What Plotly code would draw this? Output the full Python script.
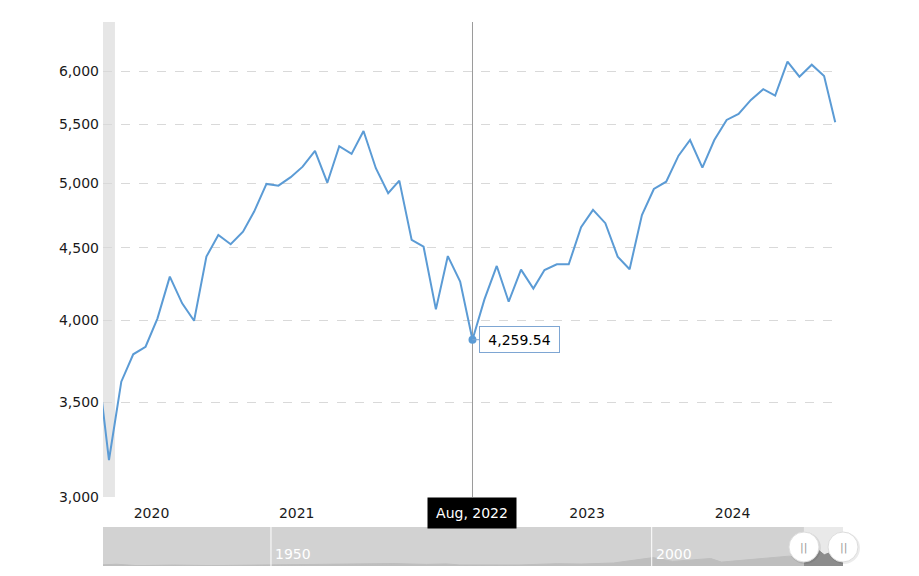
import plotly.graph_objects as go
import numpy as np
from datetime import date

# ---- main series (monthly, Feb 2020 - Mar 2025) ----
dates = [
    "2020-02-01", "2020-03-01", "2020-04-01", "2020-05-01", "2020-06-01", "2020-07-01",
    "2020-08-01", "2020-09-01", "2020-10-01", "2020-11-01", "2020-12-01", "2021-01-01",
    "2021-02-01", "2021-03-01", "2021-04-01", "2021-05-01", "2021-06-01", "2021-07-01",
    "2021-08-01", "2021-09-01", "2021-10-01", "2021-11-01", "2021-12-01", "2022-01-01",
    "2022-02-01", "2022-03-01", "2022-04-01", "2022-05-01", "2022-06-01", "2022-07-01",
    "2022-08-01", "2022-09-01", "2022-10-01", "2022-11-01", "2022-12-01", "2023-01-01",
    "2023-02-01", "2023-03-01", "2023-04-01", "2023-05-01", "2023-06-01", "2023-07-01",
    "2023-08-01", "2023-09-01", "2023-10-01", "2023-11-01", "2023-12-01", "2024-01-01",
    "2024-02-01", "2024-03-01", "2024-04-01", "2024-05-01", "2024-06-01", "2024-07-01",
    "2024-08-01", "2024-09-01", "2024-10-01", "2024-11-01", "2024-12-01", "2025-01-01",
    "2025-02-01", "2025-03-01",
]
values = [
    3733, 3186, 3619, 3784, 3831, 4012, 4294, 4111, 3996, 4436, 4595, 4526,
    4620, 4773, 4993, 4979, 5048, 5135, 5268, 5003, 5309, 5243, 5442, 5122,
    4918, 5020, 4558, 4508, 4071, 4440, 4259, 3875, 4138, 4369, 4122, 4343,
    4211, 4340, 4381, 4381, 4653, 4786, 4684, 4436, 4346, 4747, 4952, 5011,
    5228, 5363, 5127, 5363, 5541, 5595, 5724, 5825, 5764, 6092, 5945, 6062,
    5951, 5520,
]

y_ticks = [3000, 3500, 4000, 4500, 5000, 5500, 6000]
# the 2022 year label sits under the hover date box in the reference, so it is not shown
x_tick_dates = ["2020-06-16", "2021-06-16", "2023-06-16", "2024-06-16"]
x_tick_text = ["2020", "2021", "2023", "2024"]
x_range = ["2020-02-15", "2025-03-13"]

recession_band = ["2020-02-15", "2020-03-16"]

hover_date = "2022-09-01"
hover_label = "Aug, 2022"
hover_value_text = "4,259.54"

# ---- navigator (long-term history) ----
nav_dates = [
    "1927-12-10", "1929-09-01", "1932-06-01", "1937-03-01", "1942-04-01", "1946-05-01",
    "1949-06-01", "1956-07-01", "1962-06-01", "1966-01-01", "1970-06-01", "1973-01-01",
    "1974-10-01", "1982-08-01", "1987-08-01", "1990-10-01", "1995-01-01", "2000-03-01",
    "2002-10-01", "2007-10-01", "2009-03-01", "2013-01-01", "2018-01-01", "2020-03-01",
    "2021-12-01", "2022-09-01", "2024-11-01", "2025-02-15",
]
nav_values = [
    420, 620, 130, 330, 150, 290, 250, 560, 660, 850, 560, 720,
    380, 360, 800, 680, 1050, 2900, 1600, 2600, 1350, 2200, 3400, 3190,
    5440, 3880, 6090, 5900,
]
nav_range = ["1927-12-10", "2025-02-15"]
nav_ticks = ["1950-01-01", "2000-01-01"]
nav_tick_text = ["1950", "2000"]
nav_selection = ["2020-01-01", "2025-02-15"]

LINE = "#5b9bd5"
FONT = "DejaVu Sans"

H = 545.0
main_dom = [70 / H, 1.0]
nav_dom = [1 / H, 40 / H]


def nav_frac(d):
    a = date.fromisoformat(nav_range[0])
    b = date.fromisoformat(nav_range[1])
    return (date.fromisoformat(d) - a).days / (b - a).days


fig = go.Figure()

fig.add_trace(go.Scatter(
    x=dates, y=values, mode="lines", line=dict(color=LINE, width=2),
    xaxis="x", yaxis="y", hoverinfo="skip", showlegend=False,
))

hi = dates.index(hover_date)
fig.add_trace(go.Scatter(
    x=[dates[hi]], y=[values[hi]], mode="markers",
    marker=dict(color=LINE, size=8), xaxis="x", yaxis="y",
    hoverinfo="skip", showlegend=False,
))

fig.add_trace(go.Scatter(
    x=nav_dates, y=nav_values, mode="lines", fill="tozeroy",
    fillcolor="#8c8c8c", line=dict(color="#8c8c8c", width=1),
    xaxis="x2", yaxis="y2", hoverinfo="skip", showlegend=False,
))

shapes = []
shapes.append(dict(type="rect", xref="x", yref="y domain", x0=recession_band[0], x1=recession_band[1],
                   y0=0, y1=1, fillcolor="#e6e6e6", line=dict(width=0), layer="below"))
shapes.append(dict(type="rect", xref="x2 domain", yref="y2 domain", x0=0, x1=1, y0=0, y1=1,
                   fillcolor="#e9e9e9", line=dict(width=0), layer="below"))
shapes.append(dict(type="rect", xref="x2", yref="y2 domain", x0=nav_range[0], x1=nav_selection[0],
                   y0=0, y1=1, fillcolor="rgba(204,204,204,0.78)", line=dict(width=0), layer="above"))
for d in nav_ticks:
    shapes.append(dict(type="line", xref="x2", yref="y2 domain", x0=d, x1=d, y0=0, y1=1,
                       line=dict(color="white", width=1), layer="above"))
shapes.append(dict(type="line", xref="x", yref="y domain", x0=hover_date, x1=hover_date, y0=0, y1=1,
                   line=dict(color="#9a9a9a", width=1), layer="below"))
hy = 20 / H
for d in nav_selection:
    px = nav_frac(d)
    shapes.append(dict(type="circle", xref="paper", yref="paper", xsizemode="pixel", ysizemode="pixel",
                       xanchor=px, yanchor=hy, x0=-15, x1=17, y0=-17, y1=15,
                       fillcolor="rgba(0,0,0,0.08)", line=dict(width=0), layer="above"))
    shapes.append(dict(type="circle", xref="paper", yref="paper", xsizemode="pixel", ysizemode="pixel",
                       xanchor=px, yanchor=hy, x0=-15, x1=15, y0=-15, y1=15,
                       fillcolor="white", line=dict(color="#dddddd", width=1), layer="above"))

annotations = []
for d in nav_selection:
    annotations.append(dict(x=nav_frac(d), y=hy, xref="paper", yref="paper", text="||", showarrow=False,
                            font=dict(family=FONT, size=11, color="#9a9a9a"),
                            xanchor="center", yanchor="middle"))
for d, t in zip(nav_ticks, nav_tick_text):
    annotations.append(dict(x=d, y=nav_dom[0] + 2 / H, xref="x2", yref="paper", text=t, showarrow=False,
                            font=dict(family=FONT, size=14, color="white"),
                            xanchor="left", yanchor="bottom", xshift=2))
annotations.append(dict(x=hover_date, y=main_dom[0], xref="x", yref="paper", text=hover_label,
                        showarrow=False, bgcolor="black", font=dict(family=FONT, size=14, color="white"),
                        xanchor="center", yanchor="top", width=76, height=18, borderpad=6))
annotations.append(dict(x=hover_date, y=np.log10(values[hi]), xref="x", yref="y", text=hover_value_text,
                        showarrow=True, arrowhead=0, arrowwidth=1, arrowcolor="#7ea6d3",
                        ax=7, ay=0, standoff=0,
                        bgcolor="white", bordercolor="#7ea6d3", borderwidth=1, borderpad=4,
                        width=71, height=17, xanchor="left", yanchor="middle",
                        font=dict(family=FONT, size=14, color="black")))

# the page body has an 8px margin, so the figure is drawn 8px in from the window corner
fig.update_layout(
    template="none",
    width=911, height=568,
    margin=dict(l=95, r=76, t=14, b=9, autoexpand=False),
    paper_bgcolor="white", plot_bgcolor="white",
    font=dict(family=FONT, size=14, color="#1a1a1a"),
    showlegend=False,
    shapes=shapes, annotations=annotations,
    xaxis=dict(domain=[0, 737 / 740], type="date", range=x_range, tickvals=x_tick_dates,
               ticktext=x_tick_text, showgrid=False, zeroline=False, showline=False,
               ticks="", ticklabelstandoff=6, tickfont=dict(family=FONT, size=14, color="#1a1a1a"),
               anchor="y", automargin=False),
    yaxis=dict(domain=main_dom, type="log", range=[np.log10(3000), np.log10(6498)],
               tickvals=y_ticks, tickformat=",", showgrid=True, gridcolor="#d9d9d9",
               griddash="dash", gridwidth=1, zeroline=False, showline=False, ticks="",
               ticklabelstandoff=3, tickfont=dict(family=FONT, size=14, color="#1a1a1a"),
               anchor="x", automargin=False),
    xaxis2=dict(domain=[0, 1], type="date", range=nav_range, showgrid=False, showticklabels=False,
                zeroline=False, showline=False, ticks="", anchor="y2", automargin=False),
    yaxis2=dict(domain=nav_dom, range=[0, 13500], showgrid=False, showticklabels=False,
                zeroline=False, showline=False, ticks="", anchor="x2", automargin=False),
)

fig.write_html("out.html")
